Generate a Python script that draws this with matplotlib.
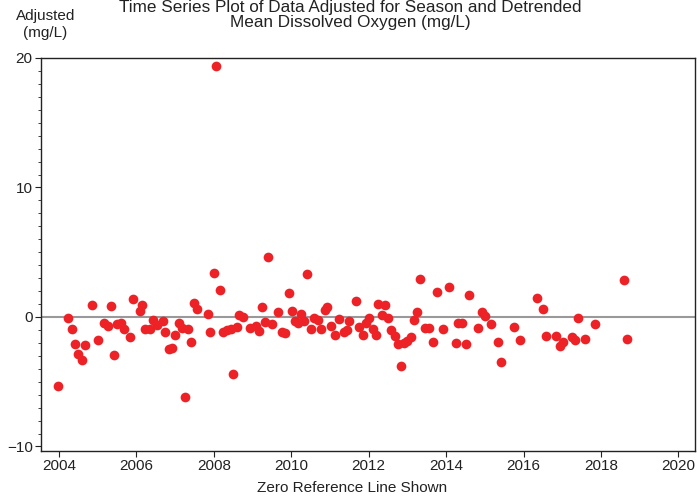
import matplotlib
matplotlib.use("Agg")
import matplotlib.pyplot as plt
from matplotlib.ticker import MultipleLocator

plt.rcParams['font.family'] = ['Liberation Sans', 'DejaVu Sans']

# decimal year of each sample
years = [
    2003.98, 2004.24, 2004.33, 2004.41, 2004.50, 2004.59, 2004.67, 2004.84, 2005.00, 2005.15,
    2005.26, 2005.34, 2005.41, 2005.50, 2005.60, 2005.68, 2005.84, 2005.92, 2006.09, 2006.15,
    2006.22, 2006.35, 2006.42, 2006.52, 2006.68, 2006.75, 2006.85, 2006.91, 2007.00, 2007.09,
    2007.17, 2007.25, 2007.34, 2007.41, 2007.49, 2007.57, 2007.84, 2007.91, 2008.00, 2008.06,
    2008.16, 2008.24, 2008.35, 2008.44, 2008.50, 2008.59, 2008.66, 2008.76, 2008.94, 2009.08,
    2009.17, 2009.25, 2009.32, 2009.41, 2009.50, 2009.67, 2009.75, 2009.84, 2009.93, 2010.01,
    2010.10, 2010.18, 2010.25, 2010.34, 2010.40, 2010.51, 2010.60, 2010.68, 2010.77, 2010.86,
    2010.92, 2011.03, 2011.12, 2011.24, 2011.35, 2011.43, 2011.50, 2011.67, 2011.76, 2011.85,
    2011.93, 2012.02, 2012.10, 2012.19, 2012.25, 2012.34, 2012.42, 2012.51, 2012.58, 2012.68,
    2012.75, 2012.83, 2012.91, 2012.98, 2013.10, 2013.16, 2013.26, 2013.33, 2013.46, 2013.57,
    2013.67, 2013.76, 2013.93, 2014.08, 2014.25, 2014.32, 2014.42, 2014.51, 2014.58, 2014.83,
    2014.92, 2015.01, 2015.16, 2015.34, 2015.42, 2015.76, 2015.91, 2016.34, 2016.50, 2016.58,
    2016.84, 2016.93, 2017.01, 2017.25, 2017.34, 2017.42, 2017.60, 2017.85, 2018.60, 2018.67,
]

# adjusted dissolved oxygen (mg/L)
adjusted = [
    -5.35, -0.08, -0.90, -2.10, -2.87, -3.36, -2.20, 0.93, -1.78, -0.49,
    -0.70, 0.85, -2.95, -0.54, -0.44, -0.93, -1.58, 1.40, 0.49, 0.93,
    -0.90, -0.93, -0.23, -0.62, -0.28, -1.14, -2.48, -2.43, -1.40, -0.49,
    -0.83, -6.18, -0.90, -1.96, 1.06, 0.62, 0.21, -1.16, 3.38, 19.38,
    2.07, -1.14, -1.00, -0.93, -4.42, -0.80, 0.16, 0.03, -0.88, -0.70,
    -1.06, 0.75, -0.36, 4.63, -0.54, 0.36, -1.16, -1.21, 1.89, 0.49,
    -0.28, -0.44, 0.21, -0.34, 3.31, -0.90, -0.08, -0.23, -0.96, 0.54,
    0.75, -0.70, -1.42, -0.16, -1.14, -1.00, -0.28, 1.24, -0.75, -1.40,
    -0.49, -0.05, -0.93, -1.42, 1.00, 0.16, 0.90, -0.05, -1.00, -1.47,
    -2.12, -3.77, -1.99, -1.83, -1.52, -0.23, 0.36, 2.95, -0.88, -0.88,
    -1.96, 1.96, -0.93, 2.30, -2.04, -0.44, -0.44, -2.09, 1.73, -0.85,
    0.41, 0.10, -0.52, -1.96, -3.44, -0.78, -1.78, 1.50, 0.62, -1.47,
    -1.47, -2.22, -1.91, -1.58, -1.78, -0.05, -1.71, -0.57, 2.87, -1.73,
]

fig = plt.figure(figsize=(6.97, 4.97), dpi=100)
ax = fig.add_axes([41 / 697, 1 - 451 / 497, 654 / 697, 393 / 497])

ax.axhline(0, color='#999999', linewidth=1.5, zorder=1)
ax.plot(years, adjusted, 'o', color='#ec2227', markersize=7, markeredgewidth=0, zorder=2)

ax.set_xlim(2003.535, 2020.43)
ax.set_ylim(-10.35, 20)
ax.xaxis.set_major_locator(MultipleLocator(2))
ax.yaxis.set_major_locator(MultipleLocator(10))
ax.yaxis.set_minor_locator(MultipleLocator(1))
ax.tick_params(axis='both', which='major', labelsize=11, length=4, color='#222222',
               labelcolor='#222222', pad=2)
ax.tick_params(axis='y', which='minor', length=2.5, color='#222222')
for s in ax.spines.values():
    s.set_color('#222222')
    s.set_linewidth(1.0)

fig.text(0.503, 0.999, 'Time Series Plot of Data Adjusted for Season and Detrended\n'
         'Mean Dissolved Oxygen (mg/L)', ha='center', va='top', fontsize=12.3,
         color='#222222', linespacing=1.0)
fig.text(0.065, 0.982, 'Adjusted\n(mg/L)', ha='center', va='top', fontsize=11,
         color='#222222', linespacing=1.3)
fig.text(0.505, 0.004, 'Zero Reference Line Shown', ha='center', va='bottom', fontsize=11,
         color='#222222')

fig.savefig('out.png', dpi=100)
